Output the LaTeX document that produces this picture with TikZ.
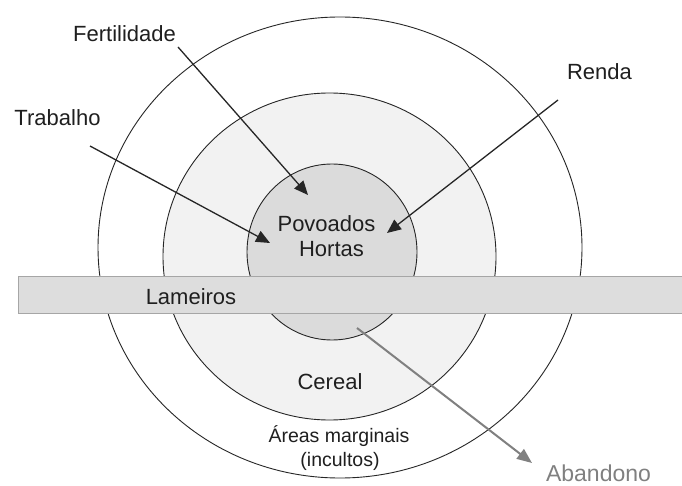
\documentclass[tikz,border=0pt]{standalone}
\usepackage{fontspec}
\setmainfont{Liberation Sans}
\usetikzlibrary{arrows.meta,shapes.geometric}
\begin{document}
\begin{tikzpicture}[x=1pt,y=-1pt,
  ring/.style={ellipse,draw=black!85,line width=0.9pt,inner sep=0pt},
  lbl/.style={font=\fontsize{22}{24}\selectfont,text=black!88,inner sep=0pt,anchor=base},
  small/.style={font=\fontsize{19.5}{22}\selectfont,text=black!88,inner sep=0pt,anchor=base},
  push/.style={draw=black!85,line width=1.3pt,-{Triangle[length=14pt,width=12pt]}},
  pull/.style={draw=black!50,line width=2pt,-{Triangle[length=15pt,width=12pt]}},
  ]
\useasboundingbox[fill=white] (0,0) rectangle (682,486);
\node[ring,fill=white,minimum width=484pt,minimum height=461pt] (outer) at (340,247.5) {};
\node[ring,fill=gray!10,minimum width=333pt,minimum height=327pt] (middle) at (329.5,256.5) {};
\node[ring,fill=gray!28,minimum width=170pt,minimum height=176pt] (inner) at (332,252) {};
\node[draw=gray!70,fill=gray!27,line width=0.9pt,minimum width=666pt,minimum height=37pt,inner sep=0pt,anchor=north west] (band) at (18,276) {};

\node[lbl] (fert) at (124.5,42) {Fertilidade};
\node[lbl] (trab) at (57.5,126) {Trabalho};
\node[lbl] (renda) at (599.5,80) {Renda};
\node[lbl] (povo) at (326.5,232) {Povoados};
\node[lbl] (hort) at (331.5,257) {Hortas};
\node[lbl] (lame) at (191,304) {Lameiros};
\node[lbl] (cere) at (330,389) {Cereal};
\node[small] (areas) at (339,442) {Áreas marginais};
\node[small] (incu) at (340,466) {(incultos)};
\node[lbl,font=\fontsize{23}{26}\selectfont,text=black!50] (aban) at (598.5,481) {Abandono};

\coordinate (fS) at (178,47);  \coordinate (fT) at (308,195);
\coordinate (tS) at (90,146);  \coordinate (tT) at (270,243);
\coordinate (rS) at (558,100); \coordinate (rT) at (387,233);
\coordinate (aS) at (357,328); \coordinate (aT) at (532,463);

\draw[push] (fS) -- (fT);
\draw[push] (tS) -- (tT);
\draw[push] (rS) -- (rT);
\draw[pull] (aS) -- (aT);
\end{tikzpicture}
\end{document}
